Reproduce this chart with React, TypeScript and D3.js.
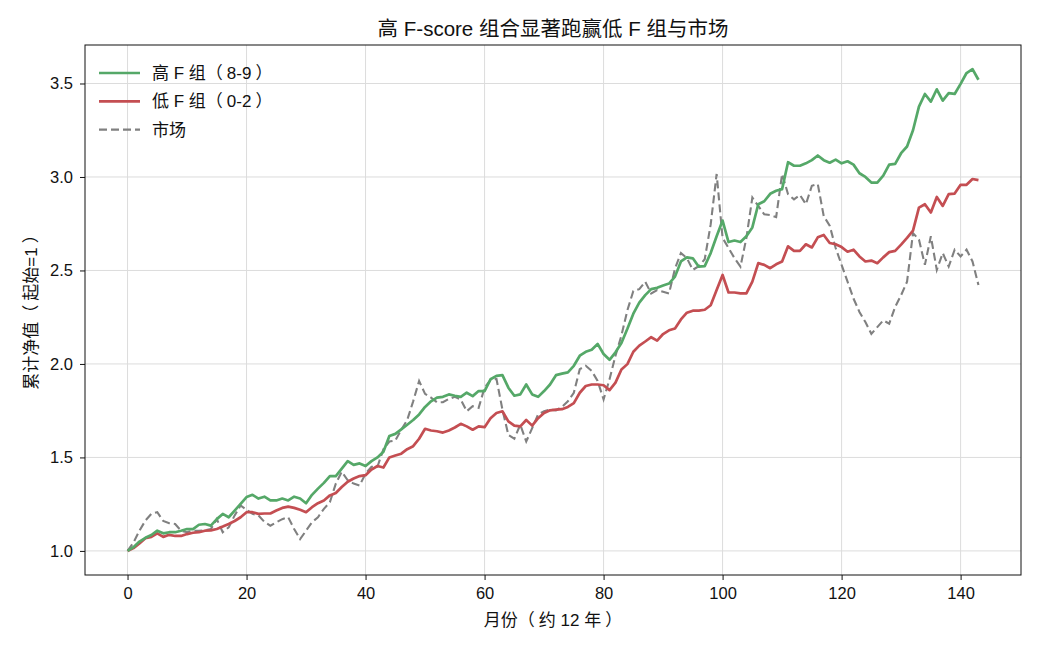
import React, { useEffect, useRef } from 'react';
import * as d3 from 'd3';

// cumulative net value, monthly (0..143)
const highF = [
  1.0, 1.02, 1.05, 1.07, 1.085, 1.108, 1.094, 1.1, 1.1, 1.108, 1.117, 1.117, 1.14, 1.144, 1.135, 1.17,
  1.198, 1.18, 1.216, 1.252, 1.288, 1.3, 1.28, 1.29, 1.27, 1.27, 1.28, 1.27, 1.29, 1.28, 1.255, 1.3,
  1.333, 1.364, 1.4, 1.4, 1.44, 1.48, 1.46, 1.468, 1.454, 1.48, 1.5, 1.53, 1.615, 1.626, 1.65, 1.675,
  1.7, 1.73, 1.77, 1.8, 1.82, 1.824, 1.837, 1.83, 1.824, 1.846, 1.828, 1.855, 1.855, 1.918, 1.936, 1.94,
  1.873, 1.83, 1.837, 1.89, 1.837, 1.824, 1.855, 1.89, 1.94, 1.948, 1.955, 1.99, 2.044, 2.065, 2.076, 2.107,
  2.053, 2.022, 2.062, 2.112, 2.188, 2.269, 2.328, 2.368, 2.4, 2.407, 2.42, 2.43, 2.467, 2.548, 2.57, 2.565,
  2.52, 2.523, 2.593, 2.683, 2.767, 2.652, 2.66, 2.652, 2.683, 2.73, 2.854, 2.87, 2.91, 2.926, 2.935, 3.079,
  3.06, 3.06, 3.073, 3.09, 3.115, 3.09, 3.076, 3.093, 3.073, 3.084, 3.066, 3.02, 3.0, 2.97, 2.97, 3.007,
  3.066, 3.07, 3.127, 3.163, 3.25, 3.376, 3.444, 3.403, 3.469, 3.408, 3.448, 3.444, 3.498, 3.556, 3.577, 3.52,
];

const lowF = [
  1.0, 1.015, 1.04, 1.068, 1.075, 1.094, 1.075, 1.086, 1.08, 1.08, 1.09, 1.097, 1.1, 1.108, 1.11, 1.117,
  1.13, 1.144, 1.16, 1.18, 1.207, 1.207, 1.198, 1.2, 1.2, 1.216, 1.23, 1.237, 1.23, 1.22, 1.207, 1.234,
  1.255, 1.27, 1.297, 1.31, 1.342, 1.37, 1.387, 1.4, 1.405, 1.435, 1.454, 1.446, 1.5, 1.51, 1.52, 1.544,
  1.56, 1.6, 1.653, 1.644, 1.64, 1.633, 1.644, 1.66, 1.68, 1.666, 1.648, 1.666, 1.662, 1.71, 1.738, 1.747,
  1.693, 1.67, 1.666, 1.7, 1.67, 1.71, 1.738, 1.752, 1.756, 1.758, 1.77, 1.79, 1.846, 1.882, 1.89, 1.89,
  1.886, 1.86, 1.9, 1.97, 1.999, 2.065, 2.098, 2.12, 2.143, 2.125, 2.16, 2.18, 2.19, 2.238, 2.274, 2.285,
  2.285, 2.29, 2.314, 2.395, 2.476, 2.382, 2.382, 2.377, 2.377, 2.44, 2.539, 2.53, 2.512, 2.533, 2.548, 2.629,
  2.605, 2.605, 2.64, 2.623, 2.677, 2.69, 2.647, 2.64, 2.625, 2.6, 2.611, 2.575, 2.548, 2.553, 2.539, 2.57,
  2.598, 2.605, 2.638, 2.674, 2.713, 2.836, 2.854, 2.81, 2.893, 2.845, 2.908, 2.911, 2.958, 2.958, 2.989, 2.983,
];

const market = [
  1.0, 1.045, 1.108, 1.162, 1.198, 1.207, 1.16, 1.148, 1.144, 1.108, 1.1, 1.108, 1.108, 1.11, 1.117, 1.17,
  1.1, 1.126, 1.19, 1.243, 1.22, 1.198, 1.19, 1.155, 1.135, 1.153, 1.17, 1.18, 1.117, 1.063, 1.108, 1.153,
  1.18, 1.225, 1.26, 1.36, 1.423, 1.378, 1.36, 1.35, 1.414, 1.45, 1.45, 1.544, 1.585, 1.59, 1.648, 1.7,
  1.8, 1.909, 1.84, 1.82, 1.795, 1.795, 1.813, 1.824, 1.81, 1.747, 1.774, 1.765, 1.873, 1.914, 1.92, 1.756,
  1.62, 1.6, 1.675, 1.585, 1.657, 1.73, 1.747, 1.756, 1.752, 1.77, 1.8, 1.846, 1.972, 1.99, 1.963, 1.909,
  1.81, 1.918, 2.044, 2.152, 2.287, 2.39, 2.4, 2.44, 2.377, 2.395, 2.386, 2.377, 2.51, 2.593, 2.566, 2.503,
  2.523, 2.56, 2.746, 3.016, 2.674, 2.62, 2.566, 2.52, 2.674, 2.89, 2.845, 2.8, 2.796, 2.785, 3.016, 2.908,
  2.88, 2.904, 2.854, 2.953, 2.962, 2.79, 2.74, 2.62, 2.53, 2.44, 2.35, 2.278, 2.224, 2.161, 2.197, 2.233,
  2.215, 2.305, 2.368, 2.44, 2.7, 2.665, 2.53, 2.683, 2.503, 2.593, 2.521, 2.611, 2.575, 2.611, 2.548, 2.422,
];

const seriesNames = ['高 F 组（8-9）', '低 F 组（0-2）', '市场'];
const xTicks = [0, 20, 40, 60, 80, 100, 120, 140];
const yTicks = [1.0, 1.5, 2.0, 2.5, 3.0, 3.5];

const FONT = '"Liberation Sans", Arial, "Noto Sans CJK SC", sans-serif';

// the CJK font sets （ to the right and ） to the left of their boxes;
// add a little air inside the brackets, as in the source
function spacedText(sel: any, str: string, gap: number) {
  const parts = str.split(/([（）])/).filter((s) => s.length);
  let pending = 0;
  parts.forEach((p) => {
    if (p === '（') {
      sel.append('tspan').attr('dx', pending).text(p);
      pending = gap;
    } else if (p === '）') {
      sel.append('tspan').attr('dx', pending + gap).text(p);
      pending = 0;
    } else {
      sel.append('tspan').attr('dx', pending).text(p);
      pending = 0;
    }
  });
}

function App() {
  const ref = useRef<SVGSVGElement | null>(null);

  useEffect(() => {
    const svg = d3.select(ref.current);
    svg.selectAll('*').remove();

    const width = 1040;
    const height = 650;
    const m = { left: 85, right: 19, top: 45, bottom: 75 };
    const iw = width - m.left - m.right;
    const ih = height - m.top - m.bottom;

    const months = highF.map((_, i) => i);
    const all = [...highF, ...lowF, ...market];
    const xPad = (months.length - 1) * 0.05;
    const [ymin, ymax] = d3.extent(all) as [number, number];
    const yPad = (ymax - ymin) * 0.05;

    const x = d3.scaleLinear().domain([-xPad, months.length - 1 + xPad]).range([0, iw]);
    const y = d3.scaleLinear().domain([ymin - yPad, ymax + yPad]).range([ih, 0]);

    svg.append('rect').attr('width', width).attr('height', height).attr('fill', '#fff');

    const g = svg.append('g').attr('transform', `translate(${m.left},${m.top})`);

    // grid
    g.append('g')
      .selectAll('line')
      .data(xTicks)
      .enter()
      .append('line')
      .attr('x1', (d) => x(d))
      .attr('x2', (d) => x(d))
      .attr('y1', 0)
      .attr('y2', ih)
      .attr('stroke', '#dcdcdc')
      .attr('stroke-width', 1);
    g.append('g')
      .selectAll('line')
      .data(yTicks)
      .enter()
      .append('line')
      .attr('x1', 0)
      .attr('x2', iw)
      .attr('y1', (d) => y(d))
      .attr('y2', (d) => y(d))
      .attr('stroke', '#dcdcdc')
      .attr('stroke-width', 1);

    // axes
    const xAxis = g
      .append('g')
      .attr('transform', `translate(0,${ih})`)
      .call(d3.axisBottom(x).tickValues(xTicks).tickFormat(d3.format('d')).tickSize(5).tickPadding(7));
    const yAxis = g
      .append('g')
      .call(d3.axisLeft(y).tickValues(yTicks).tickFormat(d3.format('.1f')).tickSize(5).tickPadding(7));
    [xAxis, yAxis].forEach((a) => {
      a.select('.domain').remove();
      a.selectAll('text').attr('font-family', FONT).attr('font-size', 16.5).attr('fill', '#111');
      a.selectAll('line').attr('stroke', '#111');
    });

    g.append('rect')
      .attr('width', iw)
      .attr('height', ih)
      .attr('fill', 'none')
      .attr('stroke', '#111')
      .attr('stroke-width', 1);

    // lines
    const line = d3
      .line<number>()
      .x((_, i) => x(months[i]))
      .y((d) => y(d));

    const styles = [
      { data: highF, color: '#55a868', w: 2.7, dash: null as string | null },
      { data: lowF, color: '#c44e52', w: 2.7, dash: null as string | null },
      { data: market, color: '#808080', w: 2.1, dash: '8,4' },
    ];

    g.append('path')
      .datum(market)
      .attr('d', line)
      .attr('fill', 'none')
      .attr('stroke', styles[2].color)
      .attr('stroke-width', styles[2].w)
      .attr('stroke-dasharray', styles[2].dash);
    [styles[1], styles[0]].forEach((s) => {
      g.append('path')
        .datum(s.data)
        .attr('d', line)
        .attr('fill', 'none')
        .attr('stroke', s.color)
        .attr('stroke-width', s.w)
        .attr('stroke-linejoin', 'round');
    });

    // legend
    const lg = g.append('g').attr('transform', 'translate(14,28)');
    styles.forEach((s, i) => {
      const row = lg.append('g').attr('transform', `translate(0,${i * 28.3})`);
      row
        .append('line')
        .attr('x1', 0)
        .attr('x2', 41)
        .attr('stroke', s.color)
        .attr('stroke-width', s.w)
        .attr('stroke-dasharray', s.dash);
      const t = row
        .append('text')
        .attr('x', 53)
        .attr('dy', '0.35em')
        .attr('font-family', FONT)
        .attr('font-size', 17)
        .attr('fill', '#111');
      spacedText(t, seriesNames[i], 4);
    });

    // title & labels
    svg
      .append('text')
      .attr('x', m.left + iw / 2)
      .attr('y', 36)
      .attr('text-anchor', 'middle')
      .attr('font-family', FONT)
      .attr('font-size', 20.5)
      .attr('fill', '#111')
      .text('高 F-score 组合显著跑赢低 F 组与市场');
    const xl = svg
      .append('text')
      .attr('x', m.left + iw / 2)
      .attr('y', 626)
      .attr('text-anchor', 'middle')
      .attr('font-family', FONT)
      .attr('font-size', 17)
      .attr('fill', '#111');
    spacedText(xl, '月份（约 12 年）', 4);
    const yl = svg
      .append('text')
      .attr('transform', `translate(37,${m.top + ih / 2 - 2}) rotate(-90)`)
      .attr('text-anchor', 'middle')
      .attr('font-family', FONT)
      .attr('font-size', 17)
      .attr('fill', '#111');
    spacedText(yl, '累计净值（起始=1）', 4);
  }, []);

  return (
    <svg
      ref={ref}
      width={1040}
      height={650}
      style={{ display: 'block', position: 'absolute', left: 0, top: 0 }}
    />
  );
}

export default App;
